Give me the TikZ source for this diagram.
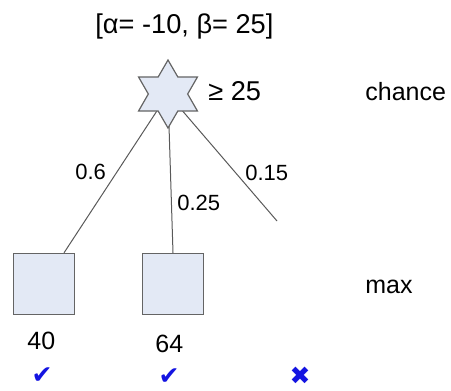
\documentclass[tikz,border=0pt]{standalone}
\usepackage{fontspec}
\setmainfont{Liberation Sans}
\newfontfamily\symfont{DejaVu Sans}
\usetikzlibrary{shapes.geometric,backgrounds}
\definecolor{boxfill}{RGB}{227,233,245}
\definecolor{boxline}{RGB}{100,100,100}
\definecolor{markblue}{RGB}{20,20,225}

\begin{document}
\begin{tikzpicture}[x=0.5pt,y=-0.5pt,every node/.style={font=\fontsize{12.5}{15}\selectfont},
  txt/.style={inner sep=0pt,anchor=base west},
  bigtxt/.style={txt,font=\fontsize{13.6}{16}\selectfont},
  prob/.style={txt,font=\fontsize{11}{13}\selectfont},
  maxbox/.style={draw=boxline,fill=boxfill,line width=.65pt,minimum size=30.5pt,inner sep=0pt},
  chancenode/.style={star,star points=6,star point ratio=1.73,draw=boxline,fill=boxfill,line width=.6pt,minimum size=34pt,inner sep=0pt},
  branch/.style={draw=black!65,line width=.5pt},
  tick/.style={inner sep=0pt,text=markblue,font=\symfont\fontsize{12.5}{14}\selectfont}]
\useasboundingbox (0,0) rectangle (451,391);
% chance node and its bounds
\node[bigtxt] (bounds) at (95,33) {[α= -10, β= 25]};
\node[chancenode] (chance) at (168,94) {};
\node[bigtxt] (geq) at (208,100) {≥ 25};
\node[txt] (chancelbl) at (365,100) {chance};
% max nodes
\node[maxbox] (left) at (44,284) {};
\node[maxbox] (mid) at (173,284) {};
\coordinate (cut) at (277,221);
\node[txt] (maxlbl) at (365,293) {max};
\node[txt] (v40) at (27,350) {40};
\node[txt] (v64) at (155,352) {64};
% probabilities
\node[prob] (p1) at (75,179) {0.6};
\node[prob] (p2) at (177,210) {0.25};
\node[prob] (p3) at (245,180) {0.15};
\node[tick] (ok1) at (42,376) {✔};
\node[tick] (ok2) at (169,377) {✔};
\node[tick] (no3) at (300,376) {✖};
\begin{pgfonlayer}{background}
\draw[branch] (chance.center) -- ([xshift=10pt]left.north);
\draw[branch] (chance.center) -- (mid.north);
\draw[branch] (chance.center) -- (cut);
\end{pgfonlayer}
\end{tikzpicture}
\end{document}
